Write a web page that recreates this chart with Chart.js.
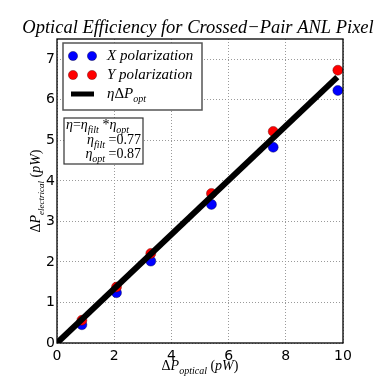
<!DOCTYPE html>
<html><head><meta charset="utf-8">
<script src="https://cdn.jsdelivr.net/npm/chart.js@4"></script>
<style>html,body{margin:0;padding:0;background:#fff}#c{display:block}</style>
</head><body>
<canvas id="c" width="382" height="382"></canvas>
<script>
const xOptical = [0.87, 2.08, 3.28, 5.40, 7.56, 9.82];
const xPolarization = [0.45, 1.24, 2.02, 3.42, 4.83, 6.23];
const yPolarization = [0.56, 1.38, 2.21, 3.69, 5.22, 6.73];
const fitX = [0, 9.8];
const fitY = [0, 6.56];
const xTicks = [0, 2, 4, 6, 8, 10];
const yTicks = [0, 1, 2, 3, 4, 5, 6, 7];
const etaFilt = '0.77';
const etaOpt = '0.87';

const SERIF = '"Liberation Serif", "Times New Roman", serif';
function rich(ctx, parts, x, y, align, base, subScale) {
  const ss = subScale || 0.68;
  const fontFor = k => {
    const sub = k[0] === 's';
    const it = k.endsWith('i');
    return (it ? 'italic ' : '') + (sub ? Math.round(base * ss) : base) + 'px ' + SERIF;
  };
  let w = 0;
  parts.forEach(p => { ctx.font = fontFor(p[1]); w += ctx.measureText(p[0]).width; });
  let cx = align === 'center' ? x - w / 2 : align === 'right' ? x - w : x;
  ctx.textAlign = 'left';
  ctx.textBaseline = 'alphabetic';
  parts.forEach(p => {
    ctx.font = fontFor(p[1]);
    ctx.fillText(p[0], cx, y + (p[1][0] === 's' ? base * 0.25 : 0));
    cx += ctx.measureText(p[0]).width;
  });
  return w;
}
const pts = (xs, ys) => xs.map((x, i) => ({x: x, y: ys[i]}));

const decor = {
  id: 'decor',
  afterDraw(chart) {
    const ctx = chart.ctx, a = chart.chartArea;
    ctx.save();
    // frame
    ctx.strokeStyle = '#000'; ctx.lineWidth = 1.3; ctx.setLineDash([]);
    ctx.strokeRect(a.left, a.top, a.right - a.left, a.bottom - a.top);
    ctx.fillStyle = '#000';
    // title
    rich(ctx, [['Optical Efficiency for Crossed\u2212Pair ANL Pixel', 'i']], 198, 33, 'center', 18.5);
    // x title
    rich(ctx, [['\u0394', 'r'], ['P', 'i'], ['optical', 'si'], [' (', 'r'], ['pW', 'i'], [')', 'r']], (a.left + a.right) / 2, 370, 'center', 14);
    // y title
    ctx.save();
    ctx.translate(40, (a.top + a.bottom) / 2);
    ctx.rotate(-Math.PI / 2);
    rich(ctx, [['\u0394', 'r'], ['P', 'i'], ['electrical', 'si'], [' (', 'r'], ['pW', 'i'], [')', 'r']], 0, 0, 'center', 14, 0.62);
    ctx.restore();
    // legend box
    const lx = a.left + 6, ly = a.top + 4, lw = 139, lh = 67;
    ctx.fillStyle = '#fff'; ctx.fillRect(lx, ly, lw, lh);
    ctx.strokeStyle = '#555'; ctx.lineWidth = 1.5; ctx.strokeRect(lx, ly, lw, lh);
    const ds = chart.data.datasets;
    const marker = (x, y, d) => {
      ctx.beginPath(); ctx.arc(x, y, 4.6, 0, Math.PI * 2);
      ctx.fillStyle = d.backgroundColor; ctx.fill();
      ctx.lineWidth = 0.6; ctx.strokeStyle = d.borderColor; ctx.stroke();
    };
    marker(lx + 10, ly + 13, ds[1]); marker(lx + 29, ly + 13, ds[1]);
    marker(lx + 10, ly + 32, ds[2]); marker(lx + 29, ly + 32, ds[2]);
    ctx.strokeStyle = '#000'; ctx.lineWidth = 5;
    ctx.beginPath(); ctx.moveTo(lx + 8, ly + 51); ctx.lineTo(lx + 31, ly + 51); ctx.stroke();
    ctx.fillStyle = '#000';
    rich(ctx, [[ds[1].label, 'i']], lx + 44, ly + 17, 'left', 15);
    rich(ctx, [[ds[2].label, 'i']], lx + 44, ly + 36, 'left', 15);
    rich(ctx, [['\u03B7', 'i'], ['\u0394', 'r'], ['P', 'i'], ['opt', 'si']], lx + 44, ly + 55, 'left', 15);
    // eta text box
    const bx = a.left + 7, by = a.top + 79, bw = 79, bh = 46;
    ctx.fillStyle = '#fff'; ctx.fillRect(bx, by, bw, bh);
    ctx.strokeStyle = '#333'; ctx.lineWidth = 1.2; ctx.strokeRect(bx, by, bw, bh);
    ctx.fillStyle = '#000';
    rich(ctx, [['\u03B7', 'i'], ['=', 'r'], ['\u03B7', 'i'], ['filt', 'si'], [' *', 'r'], ['\u03B7', 'i'], ['opt', 'si']], bx + 2, by + 11, 'left', 14);
    rich(ctx, [['\u03B7', 'i'], ['filt', 'si'], [' =' + etaFilt, 'r']], bx + bw - 2, by + 26, 'right', 14);
    rich(ctx, [['\u03B7', 'i'], ['opt', 'si'], [' =' + etaOpt, 'r']], bx + bw - 2, by + 40, 'right', 14);
    ctx.restore();
  }
};

new Chart(document.getElementById('c'), {
  type: 'scatter',
  data: {
    datasets: [
      {label: 'fit', data: pts(fitX, fitY), showLine: true, borderColor: '#000', backgroundColor: '#000',
       borderWidth: 6, pointRadius: 0, order: 0},
      {label: 'X polarization', data: pts(xOptical, xPolarization), backgroundColor: '#0000ff',
       borderColor: 'rgba(0,0,60,0.7)', borderWidth: 0.6, pointRadius: 5, order: 2},
      {label: 'Y polarization', data: pts(xOptical, yPolarization), backgroundColor: '#ff0000',
       borderColor: 'rgba(90,0,0,0.7)', borderWidth: 0.6, pointRadius: 5, order: 1}
    ]
  },
  options: {
    responsive: false, animation: false, devicePixelRatio: 1,
    layout: {padding: {top: 39, right: 39, left: 0, bottom: 0}},
    plugins: {legend: {display: false}, tooltip: {enabled: false}, title: {display: false}},
    scales: {
      x: {
        type: 'linear', min: 0, max: 10,
        afterFit: s => { s.height = 39; },
        afterBuildTicks: s => { s.ticks = xTicks.map(v => ({value: v})); },
        ticks: {color: '#000', font: {family: '"DejaVu Sans"', size: 14}, padding: 5, maxRotation: 0, autoSkip: false},
        grid: {color: '#9a9a9a', lineWidth: 1, drawTicks: false},
        border: {display: false, dash: [1, 2]}
      },
      y: {
        type: 'linear', min: 0, max: 7.5,
        afterFit: s => { s.width = 57; },
        afterBuildTicks: s => { s.ticks = yTicks.map(v => ({value: v})); },
        ticks: {color: '#000', font: {family: '"DejaVu Sans"', size: 14}, padding: 2, autoSkip: false},
        grid: {color: '#9a9a9a', lineWidth: 1, drawTicks: false},
        border: {display: false, dash: [1, 2]}
      }
    }
  },
  plugins: [decor]
});
</script>
</body></html>
